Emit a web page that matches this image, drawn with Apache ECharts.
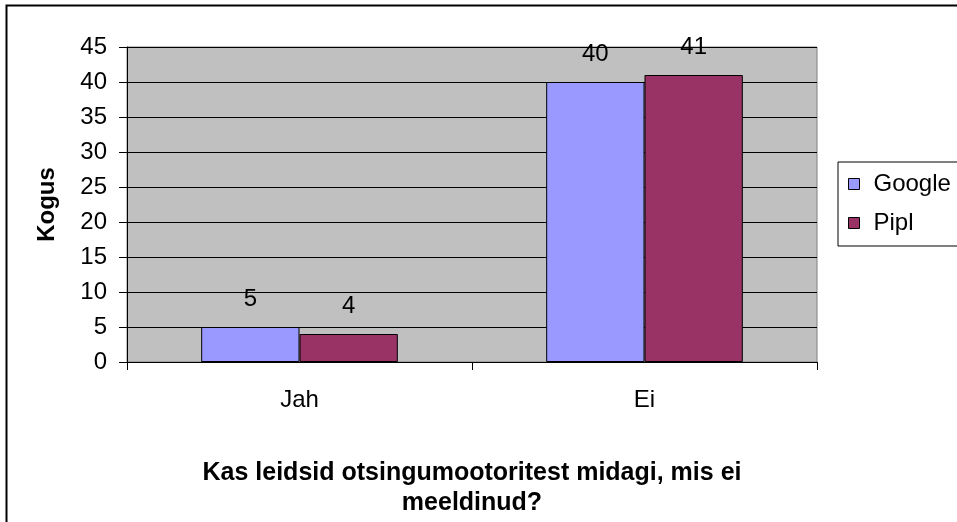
<!DOCTYPE html>
<html>
<head>
<meta charset="utf-8">
<script src="https://cdn.jsdelivr.net/npm/echarts@6/dist/echarts.min.js"></script>
<style>
  html, body { margin: 0; padding: 0; background: #fff; }
  #chart { width: 957px; height: 522px; }
</style>
</head>
<body>
<div id="chart"></div>
<script>
const categories = ['Jah', 'Ei']
const seriesNames = ['Google', 'Pipl']
const googleValues = [5, 40]
const piplValues = [4, 41]
const yTicks = { min: 0, max: 45, interval: 5 }

const FONT = '"Liberation Sans", Arial, sans-serif'

const chart = echarts.init(document.getElementById('chart'))

const barLabel = {
  show: true,
  position: 'top',
  distance: 16,
  color: '#000',
  fontFamily: FONT,
  fontSize: 24
}

const option = {
  animation: false,
  backgroundColor: '#fff',
  color: ['#9999FF', '#993366'],
  graphic: [
    {
      type: 'polyline',
      shape: { points: [[6.5, 522], [6.5, 5.5], [957, 5.5]] },
      style: { stroke: '#000', lineWidth: 2, fill: null }
    }
  ],
  grid: {
    left: 127,
    right: 140,
    top: 47,
    bottom: 160,
    outerBoundsMode: 'none',
    show: true,
    backgroundColor: '#C0C0C0',
    borderColor: '#808080',
    borderWidth: 1
  },
  legend: {
    data: seriesNames,
    orient: 'vertical',
    left: 838,
    top: 162,
    padding: [10, 50, 11, 10],
    itemGap: 15,
    itemWidth: 11,
    itemHeight: 11,
    icon: 'rect',
    backgroundColor: '#fff',
    borderColor: '#000',
    borderWidth: 1,
    borderRadius: 0,
    itemStyle: { borderColor: '#000', borderWidth: 1 },
    textStyle: {
      color: '#000',
      fontFamily: FONT,
      fontSize: 24,
      lineHeight: 24,
      padding: [0, 0, 0, 9]
    }
  },
  xAxis: {
    type: 'category',
    data: categories,
    name: 'Kas leidsid otsingumootoritest midagi, mis ei\nmeeldinud?',
    nameLocation: 'middle',
    nameGap: 96,
    nameTextStyle: {
      color: '#000',
      fontFamily: FONT,
      fontSize: 25,
      fontWeight: 'bold',
      lineHeight: 30
    },
    axisLine: { show: true, lineStyle: { color: '#000', width: 1 } },
    axisTick: { show: true, alignWithLabel: false, length: 8, lineStyle: { color: '#000' } },
    axisLabel: {
      color: '#000',
      fontFamily: FONT,
      fontSize: 24,
      margin: 26
    },
    splitLine: { show: false }
  },
  yAxis: {
    type: 'value',
    min: yTicks.min,
    max: yTicks.max,
    interval: yTicks.interval,
    name: 'Kogus',
    nameLocation: 'middle',
    nameRotate: 90,
    nameGap: 68,
    nameTextStyle: {
      color: '#000',
      fontFamily: FONT,
      fontSize: 24,
      fontWeight: 'bold'
    },
    axisLine: { show: true, lineStyle: { color: '#000', width: 1 } },
    axisTick: { show: true, length: 8, lineStyle: { color: '#000' } },
    axisLabel: {
      color: '#000',
      fontFamily: FONT,
      fontSize: 24,
      margin: 20
    },
    splitLine: { show: true, lineStyle: { color: '#000', width: 1 } }
  },
  series: [
    {
      name: seriesNames[0],
      type: 'bar',
      data: googleValues,
      barGap: '0%',
      barCategoryGap: '43%',
      itemStyle: { borderColor: '#000', borderWidth: 1 },
      label: barLabel
    },
    {
      name: seriesNames[1],
      type: 'bar',
      data: piplValues,
      itemStyle: { borderColor: '#000', borderWidth: 1 },
      label: barLabel
    }
  ]
}

chart.setOption(option)
</script>
</body>
</html>
